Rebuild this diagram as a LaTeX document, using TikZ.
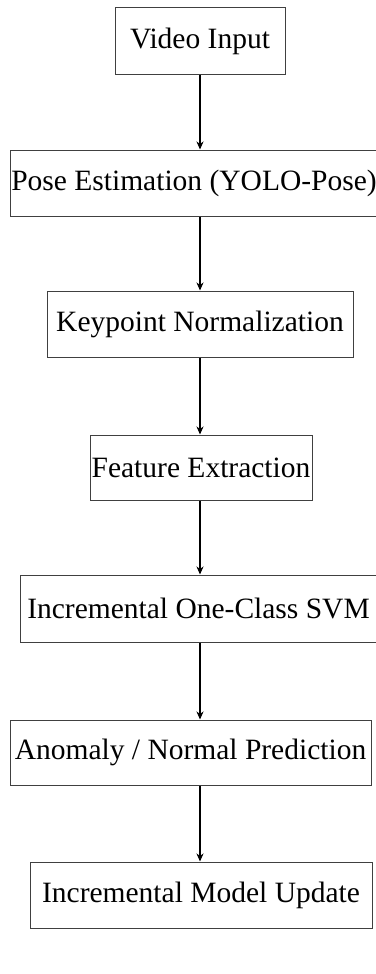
\documentclass[tikz,border=0pt]{standalone}
\usepackage{fontspec}
\setmainfont{Liberation Serif}
\usetikzlibrary{arrows.meta}
\begin{document}
\begin{tikzpicture}[x=1pt,y=-1pt,
  box/.style={draw=black!75, line width=1pt, rectangle, inner sep=0pt, minimum height=66pt,
    font=\fontsize{29.5}{35}\selectfont, text=black},
  arr/.style={draw=black, line width=1.6pt, -{Stealth[length=8pt,width=7pt,inset=2.5pt]}}]
\useasboundingbox[fill=white] (0,0) rectangle (375,974);
\coordinate (ax) at (200,0);
\node[box, minimum width=170pt] (n1) at (200,41) {Video Input};
\node[box, minimum width=368pt] (n2) at (194,183) {Pose Estimation (YOLO-Pose)};
\node[box, minimum width=306pt] (n3) at (200,324) {Keypoint Normalization};
\node[box, minimum width=222pt, minimum height=65pt] (n4) at (201,467.5) {Feature Extraction};
\node[box, minimum width=357pt, minimum height=67pt] (n5) at (198.5,608.5) {Incremental One-Class SVM};
\node[box, minimum width=361pt, minimum height=65pt] (n6) at (190.5,752.5) {Anomaly / Normal Prediction};
\node[box, minimum width=342pt] (n7) at (201,895) {Incremental Model Update};
\draw[arr] (n1.south -| ax) -- (n2.north -| ax);
\draw[arr] (n2.south -| ax) -- (n3.north -| ax);
\draw[arr] (n3.south -| ax) -- (n4.north -| ax);
\draw[arr] (n4.south -| ax) -- (n5.north -| ax);
\draw[arr] (n5.south -| ax) -- (n6.north -| ax);
\draw[arr] (n6.south -| ax) -- (n7.north -| ax);
\end{tikzpicture}
\end{document}
